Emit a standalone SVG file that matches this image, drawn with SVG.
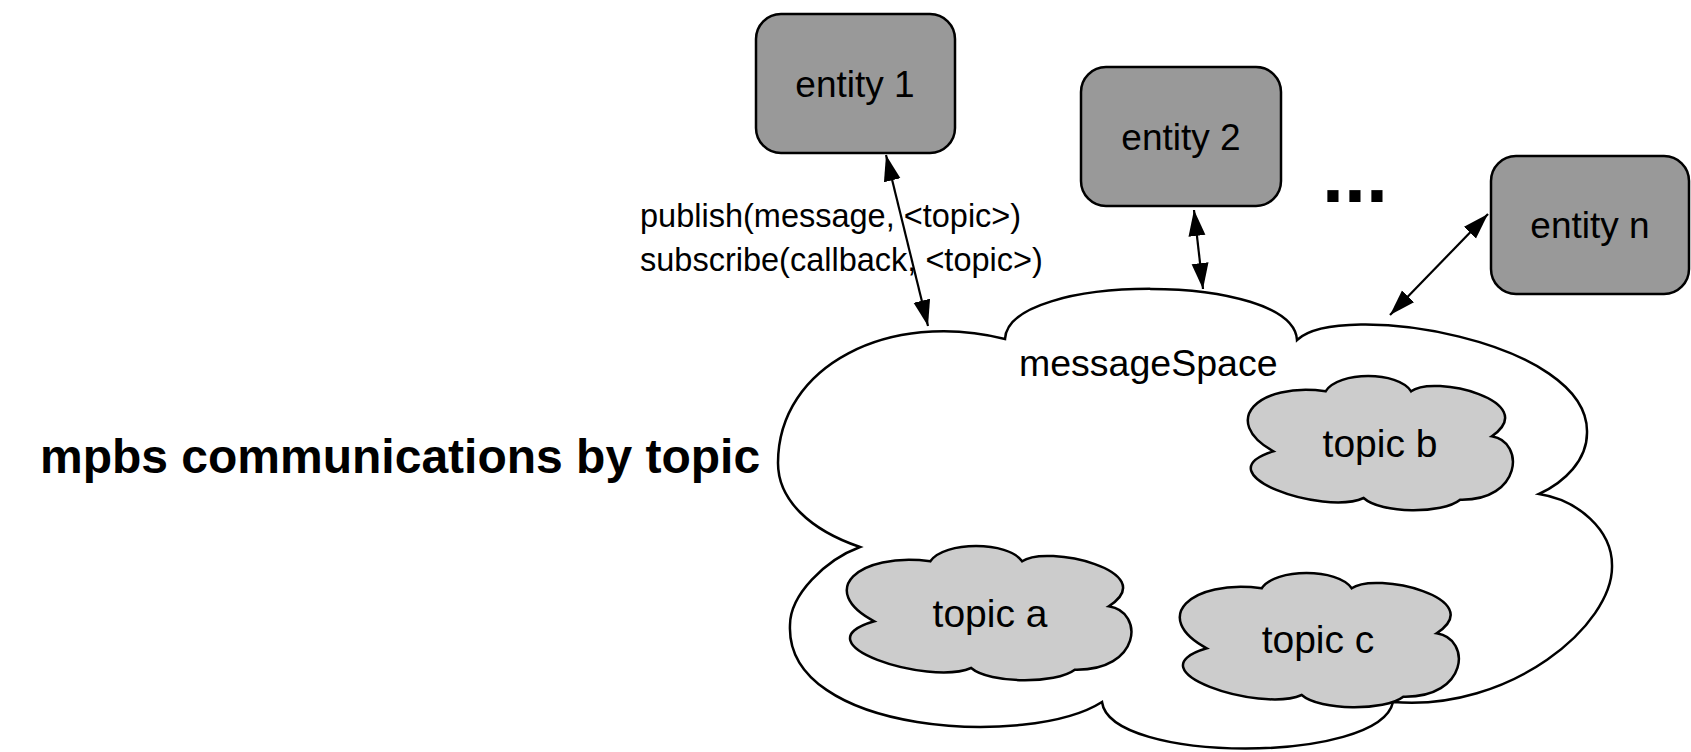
<svg xmlns="http://www.w3.org/2000/svg" xmlns:xlink="http://www.w3.org/1999/xlink" width="1691" height="752" viewBox="0 0 1691 752">
  <style>
    text { font-family: "Liberation Sans", Arial, Helvetica, sans-serif; fill: #000; }
    .entity rect { fill: #999999; stroke: #000; stroke-width: 2.5; }
    .entity text { font-size: 37px; text-anchor: middle; }
    .space { fill: #ffffff; stroke: #000; stroke-width: 2.5; stroke-linejoin: miter; }
    .topic use { fill: #cccccc; stroke: #000; stroke-width: 2.5; }
    .topic text { font-size: 39px; text-anchor: middle; }
    .conn line { stroke: #000; stroke-width: 2.2; marker-start: url(#head); marker-end: url(#head); }
    .label { font-size: 32.5px; }
    .title { font-size: 48px; font-weight: bold; }
  </style>
  <defs>
    <marker id="head" markerUnits="userSpaceOnUse" markerWidth="28" markerHeight="18" refX="26" refY="8.5" orient="auto-start-reverse">
      <path d="M0,0 L26,8.5 L0,17 Z" fill="#000"/>
    </marker>
    <!-- small cloud outline, local coords with origin at the top-left of its box -->
    <path id="cloudTopic" vector-effect="non-scaling-stroke"
      d="M26.7,75.3 C-30,45 10,6 81.7,15.3 C95,-5 158,-5 171.7,15.3 C195,-2 310,25 256.7,60.3 C292,66 288,125 223.3,123.7 C205,138 140,138 121.7,122 C80,140 -50,98 26.7,75.3 Z"/>
  </defs>

  <rect width="1691" height="752" fill="#ffffff"/>

  <text class="title" x="40" y="473">mpbs communications by topic</text>

  <g id="messageSpace">
    <path class="space" d="M1005,339 C1008,272 1293,272 1297,340 C1340,300 1590,340 1587,433 C1587,460 1565,482 1539,494 C1578,500 1612,530 1612,565 C1614,625 1510,712 1393,702 C1380,764 1110,764 1102,702 C1030,748 785,735 790,625 C790,595 825,560 860,547 C810,530 778,500 778,463 C778,365 890,310 1005,339 Z"/>
    <text x="1019" y="376" font-size="37.5">messageSpace</text>
  </g>

  <g id="topicB" class="topic">
    <use xlink:href="#cloudTopic" transform="translate(1248,376) scale(0.95,1)"/>
    <text x="1380" y="457">topic b</text>
  </g>

  <g id="topicA" class="topic">
    <use xlink:href="#cloudTopic" transform="translate(847,546) scale(1.02,1)"/>
    <text x="990" y="627">topic a</text>
  </g>

  <g id="topicC" class="topic">
    <use xlink:href="#cloudTopic" transform="translate(1180,573)"/>
    <text x="1318" y="653">topic c</text>
  </g>

  <g id="entity1" class="entity">
    <rect x="756" y="14" width="199" height="139" rx="25"/>
    <text x="855" y="97">entity 1</text>
  </g>

  <g id="entity2" class="entity">
    <rect x="1081" y="67" width="200" height="139" rx="25"/>
    <text x="1181" y="150">entity 2</text>
  </g>

  <g id="entityN" class="entity">
    <rect x="1491" y="156" width="198" height="138" rx="25"/>
    <text x="1590" y="238">entity n</text>
  </g>

  <text id="more" x="1322" y="202" font-size="79" font-weight="bold">...</text>

  <g id="connectors" class="conn">
    <line x1="886" y1="155" x2="928" y2="326"/>
    <line x1="1194" y1="210" x2="1203" y2="289"/>
    <line x1="1488" y1="214" x2="1390" y2="315"/>
  </g>

  <g id="apiLabel">
    <text class="label" x="640" y="227">publish(message, &lt;topic&gt;)</text>
    <text class="label" x="640" y="271">subscribe(callback, &lt;topic&gt;)</text>
  </g>
</svg>
